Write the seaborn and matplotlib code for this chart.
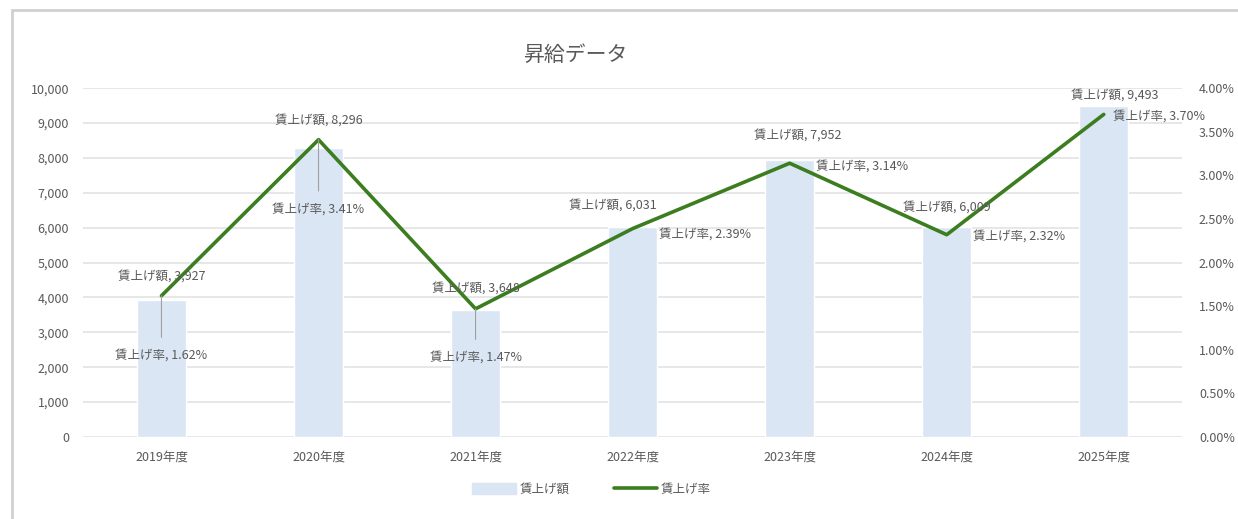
import matplotlib.pyplot as plt
import matplotlib.patches as mpatches
import matplotlib.ticker as mticker
from matplotlib.lines import Line2D
import seaborn as sns
import pandas as pd

years = ['2019年度', '2020年度', '2021年度', '2022年度', '2023年度', '2024年度', '2025年度']
raise_amount = [3927, 8296, 3648, 6031, 7952, 6009, 9493]
raise_rate = [1.62, 3.41, 1.47, 2.39, 3.14, 2.32, 3.70]

# label offsets in points: (amount label, rate label)
amount_offsets = [(0, 14), (0, 14), (0, 15), (-14, 17), (6, 20), (0, 20), (8, 14)]
rate_offsets = [(0, -43), (0, -50), (0, -35), (52, -4), (52, -2), (52, -1), (40, -1)]

BAR = '#DAE6F3'
LINE = '#3B7D1F'
TXT = '#595959'

sns.set_style('white')
plt.rcParams['font.family'] = ['Noto Sans CJK JP', 'DejaVu Sans']

df = pd.DataFrame({'year': years, 'amount': raise_amount, 'rate': raise_rate})

fig = plt.figure(figsize=(12.38, 5.19), dpi=100)
ax = fig.add_axes([0.067, 0.158, 0.888, 0.672])

# chart frame
fig.patches.append(mpatches.Rectangle((12 / 1238, -0.1), 1.2, 1 - 10 / 519 + 0.1,
                                      transform=fig.transFigure, fill=False,
                                      edgecolor='#D0D0D0', linewidth=2))

sns.barplot(x='year', y='amount', data=df, color=BAR, saturation=1, width=0.31, ax=ax, zorder=2)
ax.set_ylim(0, 10000)
ax.yaxis.set_major_locator(mticker.MultipleLocator(1000))
ax.yaxis.set_major_formatter(mticker.FuncFormatter(lambda v, p: f'{int(v):,}'))
ax.grid(axis='y', color='#E3E3E3', linewidth=1.2, zorder=0)
ax.set_axisbelow(True)
ax.set_xlabel('')
ax.set_ylabel('')
ax.set_xlim(-0.5, 6.5)
for s in ax.spines.values():
    s.set_visible(False)
ax.tick_params(axis='both', length=0, labelsize=9, colors=TXT, pad=10)

ax2 = ax.twinx()
sns.lineplot(x='year', y='rate', data=df, color=LINE, linewidth=2.6, ax=ax2, sort=False)
ax2.set_ylim(0, 4)
ax2.yaxis.set_major_locator(mticker.MultipleLocator(0.5))
ax2.yaxis.set_major_formatter(mticker.FuncFormatter(lambda v, p: f'{v:.2f}%'))
ax2.set_ylabel('')
for s in ax2.spines.values():
    s.set_visible(False)
ax2.tick_params(axis='y', length=0, labelsize=9, colors=TXT, pad=12)

for i in range(len(years)):
    ax2.annotate(f'賃上げ額, {raise_amount[i]:,}', (i, raise_rate[i]),
                 xytext=amount_offsets[i], textcoords='offset points',
                 ha='center', va='center', fontsize=9, color=TXT)
    dx, dy = rate_offsets[i]
    arrow = dict(arrowstyle='-', color='#A0A0A0', lw=0.8, shrinkA=6, shrinkB=0) if dx == 0 else None
    ax2.annotate(f'賃上げ率, {raise_rate[i]:.2f}%', (i, raise_rate[i]),
                 xytext=(dx, dy), textcoords='offset points',
                 ha='center', va='center', fontsize=9, color=TXT, arrowprops=arrow)

fig.text(0.465, 0.895, '昇給データ', ha='center', va='center', fontsize=15, color=TXT)

handles = [mpatches.Patch(color=BAR, label='賃上げ額'),
           Line2D([0], [0], color=LINE, linewidth=2.6, label='賃上げ率')]
fig.legend(handles=handles, loc='center', bbox_to_anchor=(0.478, 0.057), ncol=2,
           frameon=False, fontsize=9, labelcolor=TXT, handlelength=3.5,
           handleheight=0.9, columnspacing=3.5, handletextpad=0.3)

fig.savefig('out.png', dpi=100)
